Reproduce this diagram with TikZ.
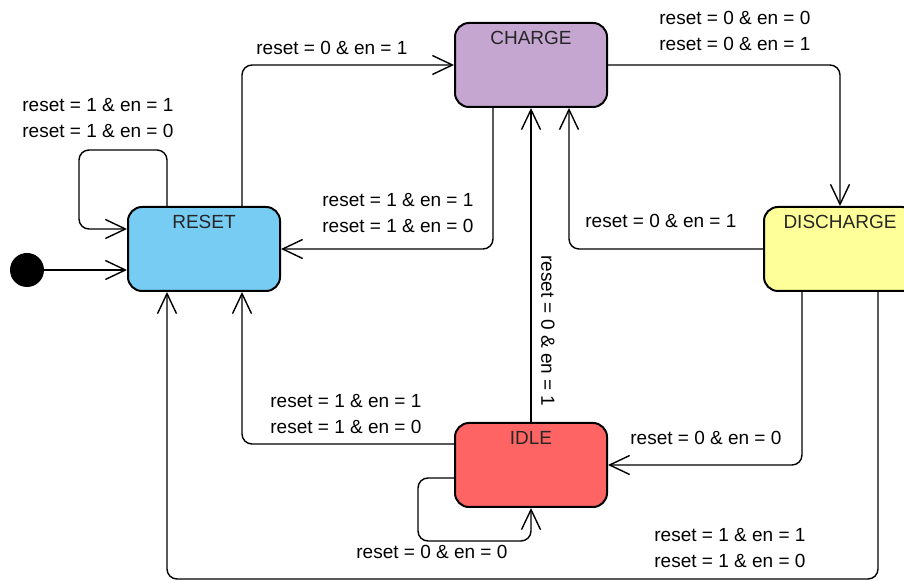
\documentclass[tikz,border=0pt]{standalone}
\usepackage{fontspec}
\setmainfont{Liberation Sans}
\usetikzlibrary{arrows.meta,calc}
\definecolor{resetblue}{RGB}{118,204,242}
\definecolor{chargeviolet}{RGB}{196,166,208}
\definecolor{dischargeyellow}{RGB}{255,255,153}
\definecolor{idlered}{RGB}{255,100,100}
\tikzset{state/.style={draw, line width=1pt, rounded corners=7pt, minimum width=76pt, minimum height=42pt, inner sep=0pt},
  statename/.style={anchor=north, yshift=-1pt, font=\fontsize{9.5}{11}\selectfont, text=black!85},
  trans/.style={line width=0.7pt, rounded corners=5pt, -{Straight Barb[length=10pt,width=9.5pt,line width=0.7pt]}},
  guard/.style={align=left, anchor=west, inner sep=0pt, font=\fontsize{9.5}{13}\selectfont}}

\begin{document}
\begin{tikzpicture}[x=0.5pt,y=-0.5pt]
   \useasboundingbox (0,0) rectangle (904,581);
   % states
   \node[circle, fill=black, minimum size=17pt, inner sep=0pt] (init) at (27,270) {};
   \node[state, fill=resetblue, label={[statename]north:RESET}] (reset) at (204,249) {};
   \node[state, fill=chargeviolet, label={[statename]north:CHARGE}] (charge) at (531,65) {};
   \node[state, fill=dischargeyellow, label={[statename]north:DISCHARGE}] (discharge) at (840,249) {};
   \node[state, fill=idlered, label={[statename]north:IDLE}] (idle) at (531,465) {};
   % transitions
   \draw[trans] (init) -- ($(reset.west)+(0,21)$);
   \draw[trans] ($(reset.north)+(-37,0)$) |- ($(reset.west)+(-48,-99)$) |- ($(reset.west)+(0,-20)$);
   \draw[trans] ($(reset.north)+(38,0)$) |- (charge.west);
   \draw[trans] ($(charge.south)+(-38,0)$) |- (reset.east);
   \draw[trans] (idle.north) -- (charge.south);
   \draw[trans] (discharge.west) -| ($(charge.south)+(38,0)$);
   \draw[trans] (charge.east) -| (discharge.north);
   \draw[trans] ($(discharge.south)+(-38,0)$) |- (idle.east);
   \draw[trans] ($(discharge.south)+(38,0)$) -- ++(0,287) -| ($(reset.south)+(-37,0)$);
   \draw[trans] ($(idle.west)+(0,-21)$) -| ($(reset.south)+(38,0)$);
   \draw[trans] ($(idle.west)+(0,13)$) -| ($(idle.south)+(-113,33)$) -| (idle.south);
   % guards
   \node[guard] (g1) at (22,118) {reset = 1 \& en = 1\\reset = 1 \& en = 0};
   \node[guard] (g2) at (256,48) {reset = 0 \& en = 1};
   \node[guard] (g3) at (322,213) {reset = 1 \& en = 1\\reset = 1 \& en = 0};
   \node[guard, anchor=center, rotate=-90] (g4) at (548,331) {reset = 0 \& en = 1};
   \node[guard] (g5) at (585,221) {reset = 0 \& en = 1};
   \node[guard] (g6) at (659,31) {reset = 0 \& en = 0\\reset = 0 \& en = 1};
   \node[guard] (g7) at (630,438) {reset = 0 \& en = 0};
   \node[guard] (g8) at (654,548) {reset = 1 \& en = 1\\reset = 1 \& en = 0};
   \node[guard] (g9) at (270,414) {reset = 1 \& en = 1\\reset = 1 \& en = 0};
   \node[guard] (g10) at (356,552) {reset = 0 \& en = 0};
\end{tikzpicture}
\end{document}
